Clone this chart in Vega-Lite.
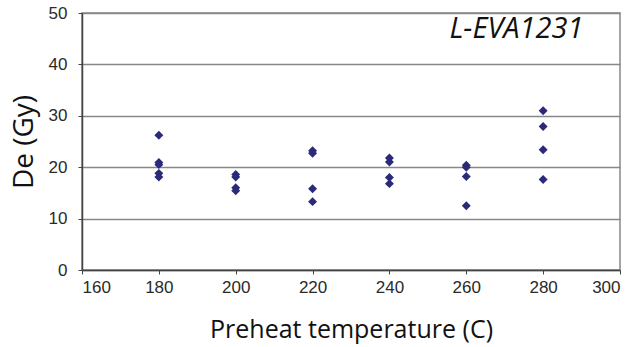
{
  "$schema": "https://vega.github.io/schema/vega-lite/v6.json",
  "width": 538,
  "height": 257,
  "autosize": {"type": "none"},
  "padding": {"left": 82, "top": 13, "right": 14, "bottom": 77},
  "background": "white",
  "config": {
    "view": {"stroke": "#888888", "strokeWidth": 1.5},
    "axis": {"labelFont": "Liberation Sans", "labelFontSize": 17, "labelColor": "#2a2a2a", "titleFont": "Open Sans", "titleFontWeight": "normal", "titleColor": "#111111", "domainColor": "#444444", "domainWidth": 1.5, "tickColor": "#444444", "tickSize": 4}
  },
  "title": {"text": "L-EVA1231", "anchor": "end", "orient": "top", "offset": -40, "dx": -37, "font": "Open Sans", "fontSize": 29, "fontStyle": "italic", "fontWeight": "normal", "color": "#111111"},
  "data": {"values": [
    {"t": 180, "de": 26.2}, {"t": 180, "de": 20.9}, {"t": 180, "de": 20.5}, {"t": 180, "de": 18.8}, {"t": 180, "de": 18.1},
    {"t": 200, "de": 18.6}, {"t": 200, "de": 18.1}, {"t": 200, "de": 16.0}, {"t": 200, "de": 15.4},
    {"t": 220, "de": 23.2}, {"t": 220, "de": 22.7}, {"t": 220, "de": 15.8}, {"t": 220, "de": 13.3},
    {"t": 240, "de": 21.8}, {"t": 240, "de": 21.0}, {"t": 240, "de": 18.0}, {"t": 240, "de": 16.8},
    {"t": 260, "de": 20.4}, {"t": 260, "de": 20.0}, {"t": 260, "de": 18.2}, {"t": 260, "de": 12.5},
    {"t": 280, "de": 31.0}, {"t": 280, "de": 27.9}, {"t": 280, "de": 23.4}, {"t": 280, "de": 17.6}
  ]},
  "mark": {"type": "point", "shape": "diamond", "filled": true, "size": 80, "color": "#2a2a78", "opacity": 1},
  "encoding": {
    "x": {"field": "t", "type": "quantitative", "scale": {"domain": [160, 300], "nice": false, "zero": false}, "axis": {"values": [160, 180, 200, 220, 240, 260, 280, 300], "grid": false, "title": "Preheat temperature (C)", "titleFontSize": 25, "labelPadding": 5, "titlePadding": 22}},
    "y": {"field": "de", "type": "quantitative", "scale": {"domain": [0, 50], "nice": false}, "axis": {"values": [0, 10, 20, 30, 40, 50], "grid": true, "gridColor": "#888888", "gridWidth": 1.5, "title": "De (Gy)", "titleFontSize": 28, "labelPadding": 11, "titlePadding": 10}}
  }
}
